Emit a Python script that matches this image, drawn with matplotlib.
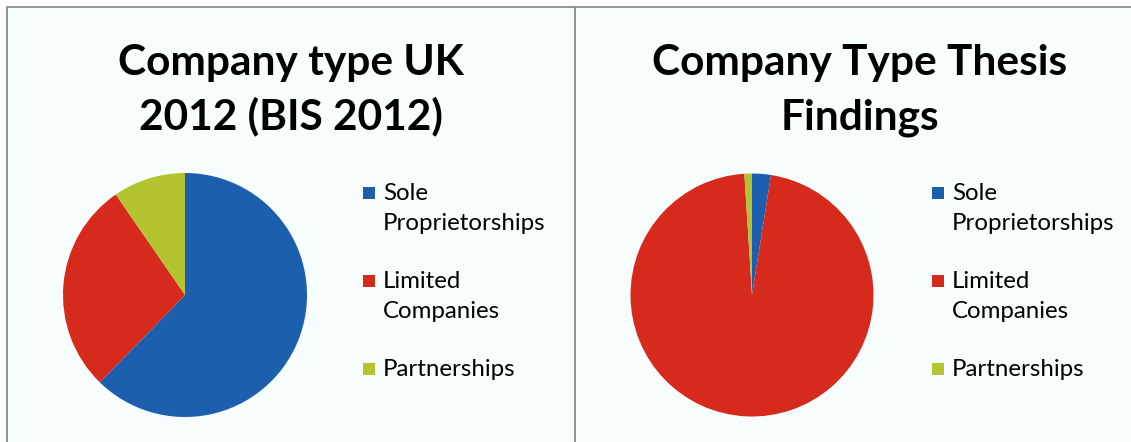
import matplotlib.pyplot as plt
from matplotlib.patches import Rectangle
from matplotlib.lines import Line2D

# figure size in pixels
W, H = 1131, 442

# company type shares (%)
labels = ['Sole\nProprietorships', 'Limited\nCompanies', 'Partnerships']
uk_2012 = [62.3, 28.1, 9.6]
thesis = [2.5, 96.5, 1.0]
colors = ['#1c5fae', '#d62a1c', '#b4c42e']
titles = ['Company type UK\n2012 (BIS 2012)', 'Company Type Thesis\nFindings']

plt.rcParams['font.family'] = ['Lato', 'DejaVu Sans']


def fx(x):
    return x / W


def fy(y):
    return 1 - y / H


fig = plt.figure(figsize=(W / 100, H / 100), dpi=100)
fig.patch.set_facecolor('white')

# chart frames
frame = Rectangle((fx(6.5), fy(460)), fx(1200), fy(7) - fy(460),
                  transform=fig.transFigure, facecolor='#f7fdfd',
                  edgecolor='#8c8c8c', linewidth=1.3, zorder=0)
fig.add_artist(frame)
fig.add_artist(Line2D([fx(575), fx(575)], [fy(7), fy(460)],
                      transform=fig.transFigure, color='#8c8c8c', lw=1.3))

# (pie centre x, radius, title centre x, legend marker x)
panels = [(185, 122, 291, 363), (752, 121.5, 860, 932)]
for (cx, r, tx, mx), vals, title in zip(panels, [uk_2012, thesis], titles):
    cy = 295
    ax = fig.add_axes([fx(cx - r), fy(cy + r), 2 * r / W, 2 * r / H])
    ax.pie(vals, colors=colors, startangle=90, counterclock=False,
           radius=1, wedgeprops=dict(linewidth=0))
    ax.set_xlim(-1, 1)
    ax.set_ylim(-1, 1)
    ax.axis('off')

    for i, line in enumerate(title.split('\n')):
        fig.text(fx(tx), fy(75 + 54 * i), line, ha='center', va='baseline',
                 fontsize=30.5, fontweight='bold', color='black')

    # legend
    for k, (lab, col) in enumerate(zip(labels, colors)):
        base = 200 + 88 * k
        fig.add_artist(Rectangle((fx(mx), fy(base - 1)), 12 / W, 12 / H,
                                 transform=fig.transFigure, facecolor=col,
                                 edgecolor='none'))
        for j, line in enumerate(lab.split('\n')):
            fig.text(fx(mx + 20), fy(base + 30 * j), line, ha='left',
                     va='baseline', fontsize=17.3, color='black')

fig.savefig('out.png', dpi=100)
